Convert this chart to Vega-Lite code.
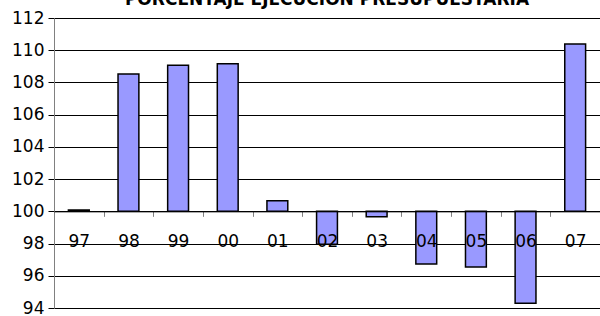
{
  "$schema": "https://vega.github.io/schema/vega-lite/v6.json",
  "width": 546,
  "height": 290,
  "autosize": "none",
  "padding": {"left": 54, "top": 18, "right": 0, "bottom": 8},
  "background": "white",
  "title": {
    "text": "PORCENTAJE EJECUCIÓN PRESUPUESTARIA",
    "font": "DejaVu Sans",
    "fontSize": 17,
    "fontWeight": "bold",
    "color": "black",
    "anchor": "middle",
    "frame": "group",
    "baseline": "alphabetic",
    "offset": -13
  },
  "config": {
    "view": {"stroke": null},
    "axis": {"labelFont": "DejaVu Sans", "labelColor": "black"}
  },
  "data": {
    "values": [
      {"anio": "97", "pct": 100.08},
      {"anio": "98", "pct": 108.53},
      {"anio": "99", "pct": 109.07},
      {"anio": "00", "pct": 109.16},
      {"anio": "01", "pct": 100.65},
      {"anio": "02", "pct": 97.95},
      {"anio": "03", "pct": 99.67},
      {"anio": "04", "pct": 96.73},
      {"anio": "05", "pct": 96.55},
      {"anio": "06", "pct": 94.3},
      {"anio": "07", "pct": 110.38}
    ]
  },
  "mark": {
    "type": "bar",
    "fill": "#9999FF",
    "stroke": "black",
    "strokeWidth": 1.5,
    "width": {"band": 0.42}
  },
  "encoding": {
    "x": {
      "field": "anio",
      "type": "ordinal",
      "sort": null,
      "scale": {"paddingInner": 0, "paddingOuter": 0},
      "axis": {
        "title": null,
        "offset": -96.67,
        "zindex": 1,
        "domainColor": "black",
        "domainWidth": 1,
        "tickBand": "extent",
        "tickColor": "#808080",
        "tickSize": 5,
        "labelFontSize": 17,
        "labelPadding": 17,
        "labelAngle": 0,
        "grid": false
      }
    },
    "y": {
      "field": "pct",
      "type": "quantitative",
      "scale": {"domain": [94, 112], "zero": false, "nice": false},
      "axis": {
        "title": null,
        "values": [94, 96, 98, 100, 102, 104, 106, 108, 110, 112],
        "grid": true,
        "gridColor": "black",
        "gridOpacity": 1,
        "gridWidth": 1,
        "domainColor": "#808080",
        "tickColor": "black",
        "tickSize": 6,
        "labelFontSize": 17,
        "labelPadding": 4,
        "zindex": 0
      }
    },
    "y2": {"datum": 100}
  }
}
